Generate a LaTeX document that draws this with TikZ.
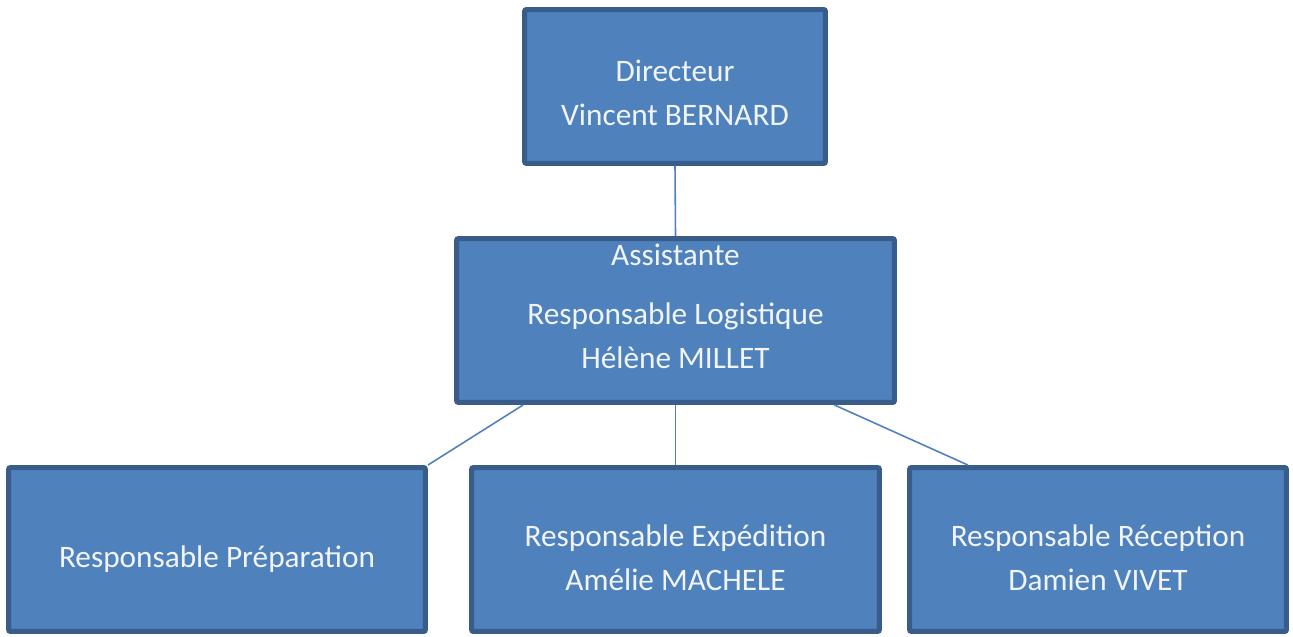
\documentclass[tikz,border=0pt]{standalone}
\usepackage{fontspec}
\setmainfont{Carlito}
\definecolor{boxfill}{HTML}{4F81BD}
\definecolor{boxline}{HTML}{385D8A}
\newcommand\intitule[2]{\raisebox{#1}[\height][\depth]{\begin{tabular}{@{}c@{}}#2\end{tabular}}}
\tikzset{
  poste/.style={draw=boxline, line width=0.1cm, fill=boxfill, rounded corners=0.04cm,
    text=white!92!boxfill, inner sep=0pt, font=\fontsize{17.8}{25}\selectfont},
  lien/.style={draw=boxfill, line width=0.9pt}
}
\begin{document}
\begin{tikzpicture}[x=0.02cm, y=-0.02cm] % one unit = one pixel of the chart
        \useasboundingbox (0,0) rectangle (1293,636);
        % boxes
        \node[poste, minimum width=6.02cm, minimum height=3.08cm] (dir) at (675,86.5)
            {\intitule{-0.16cm}{Directeur\\Vincent BERNARD}};
        \node[poste, minimum width=8.76cm, minimum height=3.28cm] (asst) at (675.5,320.5)
            {\intitule{0.24cm}{Assistante\\[0.3cm]Responsable Logistique\\Hélène MILLET}};
        \node[poste, minimum width=8.34cm, minimum height=3.28cm] (prep) at (217,549.5)
            {\intitule{-0.18cm}{Responsable Préparation}};
        \node[poste, minimum width=8.16cm, minimum height=3.28cm] (exp) at (675.5,549.5)
            {\intitule{-0.2cm}{Responsable Expédition\\Amélie MACHELE}};
        \node[poste, minimum width=7.54cm, minimum height=3.28cm] (rec) at (1098,549.5)
            {\intitule{-0.2cm}{Responsable Réception\\Damien VIVET}};

        % links
        \draw[lien] (dir.south) -- (asst.north);
        \draw[lien] (asst.209.4) -- (prep.north east);
        \draw[lien] (asst.south) -- (exp.north);
        \draw[lien] (asst.332.65) -- (rec.147.8);
\end{tikzpicture}
\end{document}
